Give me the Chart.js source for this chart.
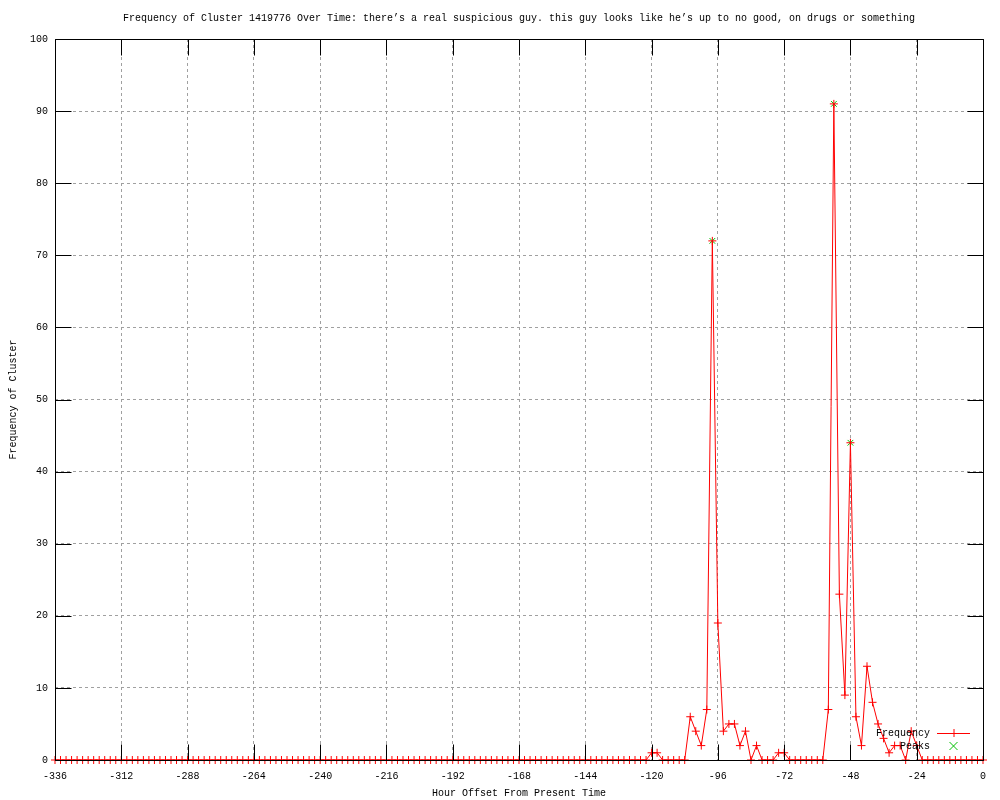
<!DOCTYPE html>
<html>
<head>
<meta charset="utf-8">
<title>Frequency of Cluster 1419776</title>
<script src="https://cdn.jsdelivr.net/npm/chart.js@4.4.1/dist/chart.umd.min.js"></script>
<style>
    html, body { margin: 0; padding: 0; background: #fff; }
    #wrap { width: 1000px; height: 800px; }
</style>
</head>
<body>
<div id="wrap"><canvas id="clusterChart" width="1000" height="800"></canvas></div>
<script>
// Hour offsets (every 2 hours) and cluster frequency
const hours = [
    -336, -334, -332, -330, -328, -326, -324, -322, -320, -318, -316, -314,
    -312, -310, -308, -306, -304, -302, -300, -298, -296, -294, -292, -290,
    -288, -286, -284, -282, -280, -278, -276, -274, -272, -270, -268, -266,
    -264, -262, -260, -258, -256, -254, -252, -250, -248, -246, -244, -242,
    -240, -238, -236, -234, -232, -230, -228, -226, -224, -222, -220, -218,
    -216, -214, -212, -210, -208, -206, -204, -202, -200, -198, -196, -194,
    -192, -190, -188, -186, -184, -182, -180, -178, -176, -174, -172, -170,
    -168, -166, -164, -162, -160, -158, -156, -154, -152, -150, -148, -146,
    -144, -142, -140, -138, -136, -134, -132, -130, -128, -126, -124, -122,
    -120, -118, -116, -114, -112, -110, -108, -106, -104, -102, -100, -98,
    -96, -94, -92, -90, -88, -86, -84, -82, -80, -78, -76, -74,
    -72, -70, -68, -66, -64, -62, -60, -58, -56, -54, -52, -50,
    -48, -46, -44, -42, -40, -38, -36, -34, -32, -30, -28, -26,
    -24, -22, -20, -18, -16, -14, -12, -10, -8, -6, -4, -2,
    0
];
const frequency = [
    0, 0, 0, 0, 0, 0, 0, 0, 0, 0, 0, 0,
    0, 0, 0, 0, 0, 0, 0, 0, 0, 0, 0, 0,
    0, 0, 0, 0, 0, 0, 0, 0, 0, 0, 0, 0,
    0, 0, 0, 0, 0, 0, 0, 0, 0, 0, 0, 0,
    0, 0, 0, 0, 0, 0, 0, 0, 0, 0, 0, 0,
    0, 0, 0, 0, 0, 0, 0, 0, 0, 0, 0, 0,
    0, 0, 0, 0, 0, 0, 0, 0, 0, 0, 0, 0,
    0, 0, 0, 0, 0, 0, 0, 0, 0, 0, 0, 0,
    0, 0, 0, 0, 0, 0, 0, 0, 0, 0, 0, 0,
    1, 1, 0, 0, 0, 0, 0, 6, 4, 2, 7, 72,
    19, 4, 5, 5, 2, 4, 0, 2, 0, 0, 0, 1,
    1, 0, 0, 0, 0, 0, 0, 0, 7, 91, 23, 9,
    44, 6, 2, 13, 8, 5, 3, 1, 2, 2, 0, 4,
    2, 0, 0, 0, 0, 0, 0, 0, 0, 0, 0, 0,
    0
];
const peakHours = [-98, -54, -48];
const peakValues = [72, 91, 44];

const xTickStep = 24;
const yTickStep = 10;

const chartTitle = "Frequency of Cluster 1419776 Over Time: there\u2019s a real suspicious guy. this guy looks like he\u2019s up to no good, on drugs or something";
const xTitle = 'Hour Offset From Present Time';
const yTitle = 'Frequency of Cluster';

const monoFont = { family: "'Liberation Mono', 'DejaVu Sans Mono', monospace", size: 10, weight: 'normal', lineHeight: 1.2 };

// gnuplot style frame: black border plus inward tick marks on all four sides
const framePlugin = {
    id: 'frame',
    afterDatasetsDraw(chart) {
        const ctx = chart.ctx;
        const area = chart.chartArea;
        const tickLen = 16;
        ctx.save();
        ctx.strokeStyle = '#000';
        ctx.lineWidth = 1;
        ctx.beginPath();
        const l = Math.round(area.left) + 0.5, r = Math.round(area.right) + 0.5;
        const t = Math.round(area.top) + 0.5, b = Math.round(area.bottom) + 0.5;
        ctx.rect(l, t, r - l, b - t);
        chart.scales.x.ticks.forEach(tk => {
            const px = Math.round(chart.scales.x.getPixelForValue(tk.value)) + 0.5;
            ctx.moveTo(px, b); ctx.lineTo(px, b - tickLen);
            ctx.moveTo(px, t); ctx.lineTo(px, t + tickLen);
        });
        chart.scales.y.ticks.forEach(tk => {
            const py = Math.round(chart.scales.y.getPixelForValue(tk.value)) + 0.5;
            ctx.moveTo(l, py); ctx.lineTo(l + tickLen, py);
            ctx.moveTo(r, py); ctx.lineTo(r - tickLen, py);
        });
        ctx.stroke();
        ctx.restore();
    }
};

// key in the lower right corner, text right aligned before the sample
const keyPlugin = {
    id: 'key',
    afterDraw(chart) {
        const ctx = chart.ctx;
        const area = chart.chartArea;
        const textRight = area.right - 53;
        const sampleL = area.right - 46, sampleR = area.right - 13;
        const sampleMid = (sampleL + sampleR) / 2;
        ctx.save();
        ctx.font = monoFont.size + 'px ' + monoFont.family;
        ctx.textAlign = 'right';
        ctx.textBaseline = 'middle';
        chart.data.datasets.forEach((ds, i) => {
            const y = area.bottom - 27 + i * 13;
            ctx.fillStyle = '#000';
            ctx.fillText(ds.label, textRight, y);
            ctx.strokeStyle = ds.borderColor;
            ctx.lineWidth = 1;
            ctx.beginPath();
            if (ds.showLine !== false) {
                ctx.moveTo(sampleL, y + 0.5); ctx.lineTo(sampleR, y + 0.5);
            }
            const rad = ds.pointRadius;
            if (ds.pointStyle === 'cross') {
                ctx.moveTo(sampleMid - rad, y + 0.5); ctx.lineTo(sampleMid + rad, y + 0.5);
                ctx.moveTo(sampleMid + 0.5, y - rad); ctx.lineTo(sampleMid + 0.5, y + rad);
            } else {
                ctx.moveTo(sampleMid - rad, y - rad); ctx.lineTo(sampleMid + rad, y + rad);
                ctx.moveTo(sampleMid - rad, y + rad); ctx.lineTo(sampleMid + rad, y - rad);
            }
            ctx.stroke();
        });
        ctx.restore();
    }
};

const ctx = document.getElementById('clusterChart').getContext('2d');
const clusterChart = new Chart(ctx, {
    type: 'line',
    data: {
        datasets: [{
            label: 'Frequency',
            data: hours.map((h, i) => ({ x: h, y: frequency[i] })),
            borderColor: '#ff0000',
            backgroundColor: '#ff0000',
            borderWidth: 1,
            pointStyle: 'cross',
            pointRadius: 4,
            pointBorderWidth: 1,
            pointHoverRadius: 4,
            tension: 0,
            fill: false,
            clip: false
        }, {
            label: 'Peaks',
            data: peakHours.map((h, i) => ({ x: h, y: peakValues[i] })),
            borderColor: '#00c000',
            backgroundColor: '#00c000',
            showLine: false,
            pointStyle: 'crossRot',
            pointRadius: 4,
            pointBorderWidth: 1,
            pointHoverRadius: 4,
            clip: false
        }]
    },
    options: {
        responsive: false,
        animation: false,
        events: [],
        layout: {
            padding: { left: 0, right: 17, top: 0, bottom: 0 }
        },
        plugins: {
            legend: { display: false },
            tooltip: { enabled: false },
            title: {
                display: true,
                fullSize: false,
                text: chartTitle,
                color: '#000',
                font: monoFont,
                padding: { top: 12, bottom: 15 }
            }
        },
        scales: {
            x: {
                type: 'linear',
                min: -336,
                max: 0,
                afterFit(scale) { scale.height = 40; },
                border: { display: false, dash: [3, 3] },
                grid: {
                    color: '#a0a0a0',
                    lineWidth: 1,
                    drawTicks: false
                },
                ticks: {
                    stepSize: xTickStep,
                    color: '#000',
                    font: monoFont,
                    padding: 10,
                    maxRotation: 0,
                    autoSkip: false
                },
                title: {
                    display: true,
                    text: xTitle,
                    color: '#000',
                    font: monoFont,
                    padding: { top: 0, bottom: 1 }
                }
            },
            y: {
                min: 0,
                max: 100,
                afterFit(scale) { scale.width = 55; },
                border: { display: false, dash: [3, 3] },
                grid: {
                    color: '#a0a0a0',
                    lineWidth: 1,
                    drawTicks: false
                },
                ticks: {
                    stepSize: yTickStep,
                    color: '#000',
                    font: monoFont,
                    padding: 7
                },
                title: {
                    display: true,
                    text: yTitle,
                    color: '#000',
                    font: monoFont,
                    padding: { top: 7, bottom: 0 }
                }
            }
        }
    },
    plugins: [framePlugin, keyPlugin]
});
</script>
</body>
</html>
